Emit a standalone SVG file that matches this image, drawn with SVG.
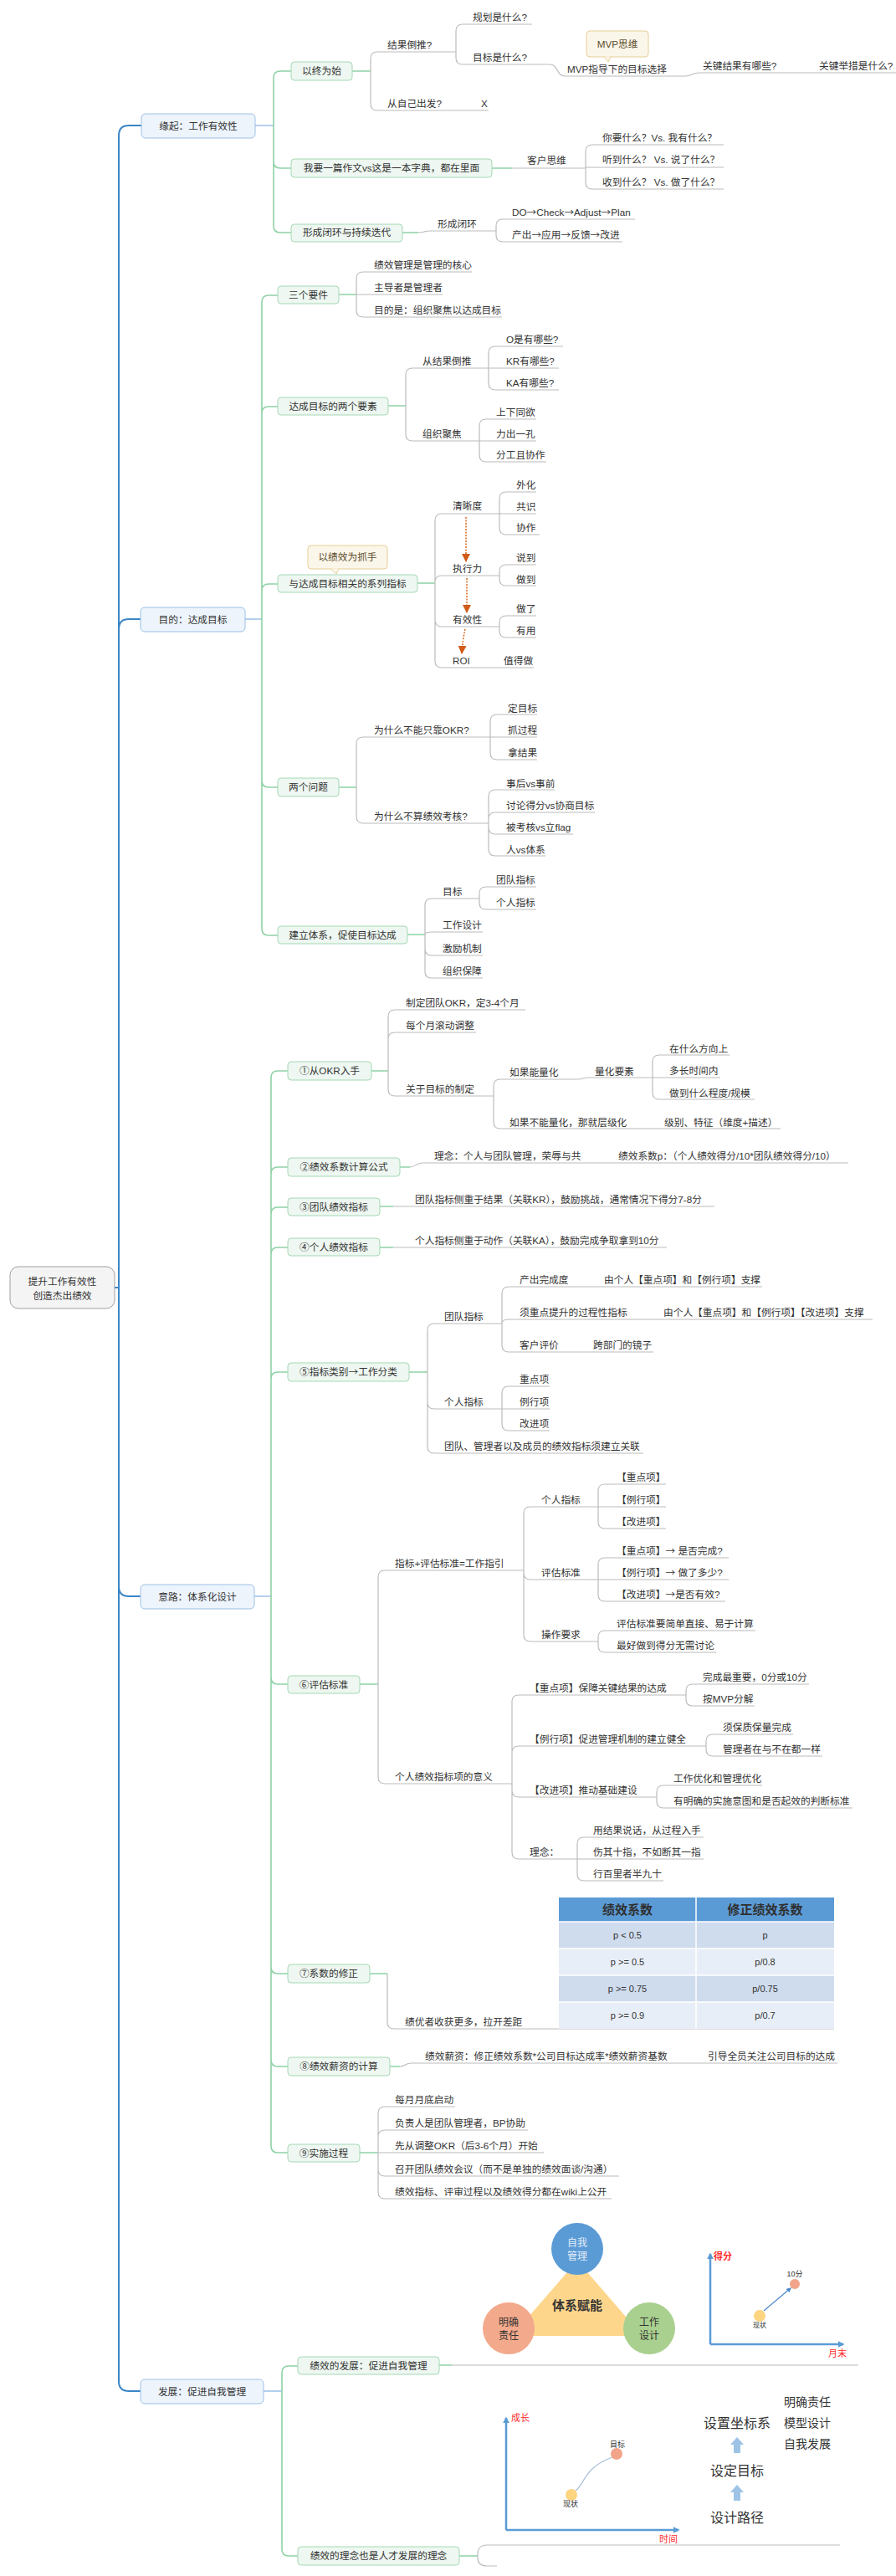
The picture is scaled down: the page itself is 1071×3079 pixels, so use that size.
<svg xmlns="http://www.w3.org/2000/svg" width="1071" height="3079" viewBox="0 0 1071 3079">
<defs>
<style>
text{font-family:'Liberation Sans','Noto Sans CJK SC',sans-serif;font-size:11.7px;fill:#333}
.ar{font-family:'Noto Sans CJK SC',sans-serif}
.c{text-anchor:middle}
.lb{fill:none;stroke:#3b86c6;stroke-width:2}
.lb2{fill:none;stroke:#9cc0e6;stroke-width:1.5}
.gn{fill:none;stroke:#8fd2a6;stroke-width:1.6}
.lg{fill:none;stroke:#bcbcbc;stroke-width:1.2}
.n1 rect{fill:#edf4fc;stroke:#9cc0e6;stroke-width:1}
.n2 rect{fill:#eef7f1;stroke:#a5d9b5;stroke-width:1}
.co{fill:#fbf6ea;stroke:#e6cf96;stroke-width:1}
.cot{fill:#5c4d2b}
.oa{fill:none;stroke:#d9691f;stroke-width:1.5;stroke-dasharray:2 1.5}
.ax{fill:none;stroke:#5b9bd5;stroke-width:2.5}
.red{fill:#ff2b2b;font-size:11px}
.sm{font-size:9px}
.big{font-size:16px}
.mid{font-size:14px}
.th{font-size:15px;font-weight:bold;fill:#2f2f2f}
.td{font-size:11px}
</style>
<marker id="ma" viewBox="0 0 10 10" markerWidth="10" markerHeight="10" refX="9" refY="5" orient="auto" markerUnits="userSpaceOnUse"><path d="M0,0 L10,5 L0,10 z" fill="#d05a16"/></marker>
<marker id="mb" viewBox="0 0 10 10" markerWidth="8" markerHeight="8" refX="8" refY="5" orient="auto" markerUnits="userSpaceOnUse"><path d="M0,0 L10,5 L0,10 z" fill="#5b9bd5"/></marker>
<marker id="mc" viewBox="0 0 10 10" markerWidth="6" markerHeight="6" refX="8" refY="5" orient="auto" markerUnits="userSpaceOnUse"><path d="M0,0 L10,5 L0,10 z" fill="#4a88c8"/></marker>
</defs>
<rect width="1071" height="3079" fill="#ffffff"/>

<g id="connectors">
<path class="lb" d="M137 1539 H142 M142 1539 V162 Q142 150 154 150 H169 M142 1539 V752 Q142 740 154 740 H168 M142 1539 V1896 Q142 1908 154 1908 H168 M142 1539 V2846 Q142 2858 154 2858 H168"/>
<path class="lb2" d="M305 150 H327 M293 740 H313 M304 1908 H324 M315 2858 H337"/>
<path class="gn" d="M327 150 V93 Q327 85 335 85 H348 M327 150 V193 Q327 201 335 201 H348 M327 150 V270 Q327 278 335 278 H348"/>
<path class="gn" d="M313 740 V361 Q313 353 321 353 H332 M313 740 V494 Q313 486 321 486 H332 M313 740 V706 Q313 698 321 698 H332 M313 740 V933 Q313 941 321 941 H332 M313 740 V1110 Q313 1118 321 1118 H332"/>
<path class="gn" d="M324 1908 V1288 Q324 1280 332 1280 H344 M324 1908 V1403 Q324 1395 332 1395 H344 M324 1908 V1451 Q324 1443 332 1443 H344 M324 1908 V1499 Q324 1491 332 1491 H344 M324 1908 V1648 Q324 1640 332 1640 H344 M324 1908 V2005 Q324 2013 332 2013 H344 M324 1908 V2351 Q324 2359 332 2359 H344 M324 1908 V2462 Q324 2470 332 2470 H344 M324 1908 V2565 Q324 2573 332 2573 H344"/>
<path class="gn" d="M337 2858 V2836 Q337 2828 345 2828 H356 M337 2858 V3047 Q337 3055 345 3055 H356"/>
<path class="gn" d="M421 85 H443 M588 201 H612 M481 278 H500 M405 352 H426 M464 485 H485 M499 697 H520 M405 941 H426 M487 1117 H508 M444 1280 H464 M478 1395 H490 M454 1442 H470 M454 1491 H470 M489 1640 H511 M430 2013 H452 M442 2359 H463 M466 2470 H478 M430 2573 H452 M525 2827 H540 M549 3055 H571"/>
<path class="lg" d="M443 85 V70 Q443 62 451 62 H545 M443 85 V124 Q443 132 451 132 H584 M545 62 V37 Q545 29 553 29 H636 M545 62 V69 Q545 77 553 77 H657 M657 77 C668 77 664 91 676 91 H819 M819 91 C828 91 826 87 836 87 H1071"/>
<path class="lg" d="M612 201 H700 M700 201 V181 Q700 173 708 173 H865 M700 200 H865 M700 201 V218 Q700 226 708 226 H865"/>
<path class="lg" d="M500 278 C508 278 506 276 514 276 H593 M593 276 V270 Q593 262 601 262 H759 M593 276 V281 Q593 289 601 289 H744"/>
<path class="lg" d="M426 352 V333 Q426 325 434 325 H564 M426 352 H529 M426 352 V371 Q426 379 434 379 H600"/>
<path class="lg" d="M485 485 V448 Q485 440 493 440 H584 M485 485 V519 Q485 527 493 527 H573 M584 440 V422 Q584 414 592 414 H673 M584 440 H668 M584 440 V458 Q584 466 592 466 H668 M573 527 V509 Q573 501 581 501 H641 M573 527 H641 M573 527 V544 Q573 552 581 552 H653"/>
<path class="lg" d="M520 697 V622 Q520 614 528 614 H597 M520 697 V696 Q520 688 528 688 H597 M520 697 V741 Q520 749 528 749 H597 M520 697 V790 Q520 798 528 798 H638 M597 614 V596 Q597 588 605 588 H641 M597 614 H641 M597 614 V631 Q597 639 605 639 H645 M597 688 V683 Q597 675 605 675 H641 M597 688 V692 Q597 700 605 700 H641 M597 749 V744 Q597 736 605 736 H641 M597 749 V754 Q597 762 605 762 H641"/>
<path class="lg" d="M426 941 V889 Q426 881 434 881 H586 M426 941 V976 Q426 984 434 984 H584 M586 881 V862 Q586 854 594 854 H642 M586 881 H642 M586 881 V900 Q586 908 594 908 H642 M584 984 V952 Q584 944 592 944 H663 M584 984 V979 Q584 971 592 971 H711 M584 984 V989 Q584 997 592 997 H685 M584 984 V1015 Q584 1023 592 1023 H652"/>
<path class="lg" d="M508 1117 V1082 Q508 1074 516 1074 H573 M508 1117 C508 1115 510 1114 516 1114 H577 M508 1117 V1134 Q508 1142 516 1142 H577 M508 1117 V1161 Q508 1169 516 1169 H577 M573 1074 V1068 Q573 1060 581 1060 H641 M573 1074 V1079 Q573 1087 581 1087 H641"/>
<path class="lg" d="M464 1280 V1215 Q464 1207 472 1207 H628 M464 1280 V1242 Q464 1234 472 1234 H569 M464 1280 V1302 Q464 1310 472 1310 H590 M590 1310 V1298 Q590 1290 598 1290 H690 M590 1310 V1341 Q590 1349 598 1349 H933 M690 1290 C698 1290 696 1288 704 1288 H780 M780 1288 V1269 Q780 1261 788 1261 H872 M780 1288 H861 M780 1288 V1306 Q780 1314 788 1314 H902"/>
<path class="lg" d="M490 1395 C497 1395 497 1390 505 1390 H1014 M470 1442 H854 M470 1491 H797"/>
<path class="lg" d="M511 1640 V1590 Q511 1582 519 1582 H600 M511 1640 V1676 Q511 1684 519 1684 H600 M511 1640 V1729 Q511 1737 519 1737 H769 M600 1582 V1546 Q600 1538 608 1538 H911 M600 1582 C600 1579 603 1577 608 1577 H1043 M600 1582 V1608 Q600 1616 608 1616 H781 M600 1684 V1665 Q600 1657 608 1657 H657 M600 1684 H657 M600 1684 V1702 Q600 1710 608 1710 H657"/>
<path class="lg" d="M452 2013 V1885 Q452 1877 460 1877 H626 M452 2013 V2124 Q452 2132 460 2132 H612 M626 1877 V1809 Q626 1801 634 1801 H715 M626 1877 V1880 Q626 1888 634 1888 H715 M626 1877 V1954 Q626 1962 634 1962 H715 M715 1801 V1782 Q715 1774 723 1774 H796 M715 1801 H796 M715 1801 V1819 Q715 1827 723 1827 H796 M715 1888 V1870 Q715 1862 723 1862 H871 M715 1888 H871 M715 1888 V1906 Q715 1914 723 1914 H867 M715 1962 V1957 Q715 1949 723 1949 H903 M715 1962 V1967 Q715 1975 723 1975 H856"/>
<path class="lg" d="M612 2132 V2034 Q612 2026 620 2026 H820 M612 2132 V2095 Q612 2087 620 2087 H844 M612 2132 V2140 Q612 2148 620 2148 H785 M612 2132 V2214 Q612 2222 620 2222 H690 M820 2026 V2021 Q820 2013 828 2013 H967 M820 2026 V2031 Q820 2039 828 2039 H902 M844 2087 V2081 Q844 2073 852 2073 H948 M844 2087 V2091 Q844 2099 852 2099 H983 M785 2148 V2142 Q785 2134 793 2134 H911 M785 2148 V2153 Q785 2161 793 2161 H1019 M690 2222 V2204 Q690 2196 698 2196 H841 M690 2222 H841 M690 2222 V2240 Q690 2248 698 2248 H793"/>
<path class="lg" d="M463 2359 V2417 Q463 2425 471 2425 H997 M478 2470 C484 2470 484 2466 492 2466 H1001"/>
<path class="lg" d="M452 2573 V2526 Q452 2518 460 2518 H544 M452 2573 V2554 Q452 2546 460 2546 H631 M452 2573 H650 M452 2573 V2593 Q452 2601 460 2601 H740 M452 2573 V2620 Q452 2628 460 2628 H731"/>
<path class="lg" d="M540 2827 H1026 M1004 3042 H582 Q571 3042 571 3053 V3057 Q571 3067 582 3067 H594"/>
<path class="oa" d="M557 618 V671" marker-end="url(#ma)"/>
<path class="oa" d="M558 691 V732" marker-end="url(#ma)"/>
<path class="oa" d="M556 752 Q553 765 552 781" marker-end="url(#ma)"/>
</g>

<g id="root"><rect x="12" y="1514" width="125" height="50" rx="10" fill="#f4f4f4" stroke="#a0a0a0"/><text class="c" x="74.5" y="1536">提升工作有效性</text><text class="c" x="74.5" y="1553">创造杰出绩效</text></g>

<g id="n-yuanqi" class="n1"><rect x="169" y="136" width="136" height="29" rx="5"/><text class="c" x="237" y="155">缘起：工作有效性</text></g>
<g id="n-mudi" class="n1"><rect x="168" y="726" width="125" height="29" rx="5"/><text class="c" x="230.5" y="745">目的：达成目标</text></g>
<g id="n-yilu" class="n1"><rect x="168" y="1894" width="136" height="29" rx="5"/><text class="c" x="236" y="1913">意路：体系化设计</text></g>
<g id="n-fazhan" class="n1"><rect x="168" y="2844" width="147" height="29" rx="5"/><text class="c" x="241.5" y="2863">发展：促进自我管理</text></g>

<g id="n-yizhong" class="n2"><rect x="348" y="74" width="73" height="22" rx="4"/><text class="c" x="384.5" y="89">以终为始</text></g>
<g id="n-zuowen" class="n2"><rect x="348" y="190" width="240" height="22" rx="4"/><text class="c" x="468" y="205">我要一篇作文vs这是一本字典，都在里面</text></g>
<g id="n-bihuan" class="n2"><rect x="348" y="268" width="133" height="21" rx="4"/><text class="c" x="414.5" y="282">形成闭环与持续迭代</text></g>

<g id="n-sange" class="n2"><rect x="332" y="342" width="73" height="21" rx="4"/><text class="c" x="368.5" y="357">三个要件</text></g>
<g id="n-liangge" class="n2"><rect x="332" y="475" width="132" height="21" rx="4"/><text class="c" x="398" y="490">达成目标的两个要素</text></g>
<g id="n-xilie" class="n2"><rect x="332" y="687" width="167" height="21" rx="4"/><text class="c" x="415.5" y="702">与达成目标相关的系列指标</text></g>
<g id="n-wenti" class="n2"><rect x="332" y="930" width="73" height="22" rx="4"/><text class="c" x="368.5" y="945">两个问题</text></g>
<g id="n-tixi" class="n2"><rect x="332" y="1107" width="155" height="21" rx="4"/><text class="c" x="409.5" y="1122">建立体系，促使目标达成</text></g>

<g id="n-1" class="n2"><rect x="344" y="1269" width="100" height="22" rx="4"/><text class="c" x="394" y="1284">①从OKR入手</text></g>
<g id="n-2" class="n2"><rect x="344" y="1384" width="134" height="22" rx="4"/><text class="c" x="411" y="1399">②绩效系数计算公式</text></g>
<g id="n-3" class="n2"><rect x="344" y="1432" width="110" height="21" rx="4"/><text class="c" x="399" y="1447">③团队绩效指标</text></g>
<g id="n-4" class="n2"><rect x="344" y="1480" width="110" height="21" rx="4"/><text class="c" x="399" y="1495">④个人绩效指标</text></g>
<g id="n-5" class="n2"><rect x="344" y="1629" width="145" height="22" rx="4"/><text class="c" x="416.5" y="1644">⑤指标类别<tspan class="ar">→</tspan>工作分类</text></g>
<g id="n-6" class="n2"><rect x="344" y="2003" width="86" height="21" rx="4"/><text class="c" x="387" y="2018">⑥评估标准</text></g>
<g id="n-7" class="n2"><rect x="344" y="2348" width="98" height="22" rx="4"/><text class="c" x="393" y="2363">⑦系数的修正</text></g>
<g id="n-8" class="n2"><rect x="344" y="2459" width="122" height="22" rx="4"/><text class="c" x="405" y="2474">⑧绩效薪资的计算</text></g>
<g id="n-9" class="n2"><rect x="344" y="2563" width="86" height="21" rx="4"/><text class="c" x="387" y="2578">⑨实施过程</text></g>

<g id="n-fz1" class="n2"><rect x="356" y="2817" width="169" height="21" rx="4"/><text class="c" x="440.5" y="2832">绩效的发展：促进自我管理</text></g>
<g id="n-fz2" class="n2"><rect x="356" y="3044" width="193" height="22" rx="4"/><text class="c" x="452.5" y="3059">绩效的理念也是人才发展的理念</text></g>

<g id="callouts">
<rect class="co" x="701" y="37" width="74" height="31" rx="4"/><path class="co" d="M722 67.5 L727 74 L730 67.5" /><text class="c cot" x="738" y="57">MVP思维</text>
<rect class="co" x="368" y="652" width="95" height="28" rx="4"/><path class="co" d="M395 679.5 L402 686 L405 679.5"/><text class="c cot" x="415.5" y="670">以绩效为抓手</text>
</g>

<g id="leaves">
<text x="463" y="58">结果倒推?</text>
<text x="463" y="128">从自己出发?</text>
<text x="575" y="128">X</text>
<text x="565" y="25">规划是什么?</text>
<text x="565" y="73">目标是什么?</text>
<text x="678" y="87">MVP指导下的目标选择</text>
<text x="840" y="83">关键结果有哪些?</text>
<text x="979" y="83">关键举措是什么?</text>
<text x="630" y="196">客户思维</text>
<text x="720" y="169">你要什么？Vs. 我有什么？</text>
<text x="720" y="195">听到什么？ Vs. 说了什么？</text>
<text x="720" y="222">收到什么？ Vs. 做了什么？</text>
<text x="523" y="272">形成闭环</text>
<text x="612" y="258">DO<tspan class="ar">→</tspan>Check<tspan class="ar">→</tspan>Adjust<tspan class="ar">→</tspan>Plan</text>
<text x="612" y="285">产出<tspan class="ar">→</tspan>应用<tspan class="ar">→</tspan>反馈<tspan class="ar">→</tspan>改进</text>

<text x="447" y="321">绩效管理是管理的核心</text>
<text x="447" y="348">主导者是管理者</text>
<text x="447" y="375">目的是：组织聚焦以达成目标</text>
<text x="505" y="436">从结果倒推</text>
<text x="605" y="410">O是有哪些?</text>
<text x="605" y="436">KR有哪些?</text>
<text x="605" y="462">KA有哪些?</text>
<text x="505" y="523">组织聚焦</text>
<text x="593" y="497">上下同欲</text>
<text x="593" y="523">力出一孔</text>
<text x="593" y="548">分工且协作</text>
<text x="541" y="609">清晰度</text>
<text x="617" y="584">外化</text>
<text x="617" y="610">共识</text>
<text x="617" y="635">协作</text>
<text x="541" y="684">执行力</text>
<text x="617" y="671">说到</text>
<text x="617" y="697">做到</text>
<text x="541" y="745">有效性</text>
<text x="617" y="732">做了</text>
<text x="617" y="758">有用</text>
<text x="541" y="794">ROI</text>
<text x="602" y="794">值得做</text>

<text x="447" y="877">为什么不能只靠OKR?</text>
<text x="607" y="851">定目标</text>
<text x="607" y="877">抓过程</text>
<text x="607" y="904">拿结果</text>
<text x="447" y="980">为什么不算绩效考核?</text>
<text x="605" y="941">事后vs事前</text>
<text x="605" y="967">讨论得分vs协商目标</text>
<text x="605" y="993">被考核vs立flag</text>
<text x="605" y="1020">人vs体系</text>
<text x="529" y="1070">目标</text>
<text x="593" y="1056">团队指标</text>
<text x="593" y="1083">个人指标</text>
<text x="529" y="1110">工作设计</text>
<text x="529" y="1138">激励机制</text>
<text x="529" y="1165">组织保障</text>

<text x="485" y="1203">制定团队OKR，定3-4个月</text>
<text x="485" y="1230">每个月滚动调整</text>
<text x="485" y="1306">关于目标的制定</text>
<text x="609" y="1286">如果能量化</text>
<text x="711" y="1285">量化要素</text>
<text x="800" y="1258">在什么方向上</text>
<text x="800" y="1284">多长时间内</text>
<text x="800" y="1311">做到什么程度/规模</text>
<text x="609" y="1346">如果不能量化，那就层级化</text>
<text x="794" y="1346">级别、特征（维度+描述）</text>
<text x="519" y="1386">理念：个人与团队管理，荣辱与共</text>
<text x="739" y="1386">绩效系数p：（个人绩效得分/10*团队绩效得分/10）</text>
<text x="496" y="1438">团队指标侧重于结果（关联KR），鼓励挑战，通常情况下得分7-8分</text>
<text x="496" y="1487">个人指标侧重于动作（关联KA），鼓励完成争取拿到10分</text>

<text x="531" y="1578">团队指标</text>
<text x="621" y="1534">产出完成度</text>
<text x="722" y="1534">由个人【重点项】和【例行项】支撑</text>
<text x="621" y="1573">须重点提升的过程性指标</text>
<text x="793" y="1573">由个人【重点项】和【例行项】【改进项】支撑</text>
<text x="621" y="1612">客户评价</text>
<text x="709" y="1612">跨部门的镜子</text>
<text x="531" y="1680">个人指标</text>
<text x="621" y="1653">重点项</text>
<text x="621" y="1680">例行项</text>
<text x="621" y="1706">改进项</text>
<text x="531" y="1733">团队、管理者以及成员的绩效指标须建立关联</text>

<text x="472" y="1873">指标+评估标准=工作指引</text>
<text x="647" y="1797">个人指标</text>
<text x="737" y="1770">【重点项】</text>
<text x="737" y="1797">【例行项】</text>
<text x="737" y="1823">【改进项】</text>
<text x="647" y="1884">评估标准</text>
<text x="737" y="1858">【重点项】<tspan class="ar">→</tspan> 是否完成?</text>
<text x="737" y="1884">【例行项】<tspan class="ar">→</tspan> 做了多少?</text>
<text x="737" y="1910">【改进项】<tspan class="ar">→</tspan>是否有效?</text>
<text x="647" y="1958">操作要求</text>
<text x="737" y="1945">评估标准要简单直接、易于计算</text>
<text x="737" y="1971">最好做到得分无需讨论</text>
<text x="472" y="2128">个人绩效指标项的意义</text>
<text x="633" y="2022">【重点项】保障关键结果的达成</text>
<text x="840" y="2009">完成最重要，0分或10分</text>
<text x="840" y="2035">按MVP分解</text>
<text x="633" y="2083">【例行项】促进管理机制的建立健全</text>
<text x="864" y="2069">须保质保量完成</text>
<text x="864" y="2095">管理者在与不在都一样</text>
<text x="633" y="2144">【改进项】推动基础建设</text>
<text x="805" y="2130">工作优化和管理优化</text>
<text x="805" y="2157">有明确的实施意图和是否起效的判断标准</text>
<text x="633" y="2218">理念：</text>
<text x="709" y="2192">用结果说话，从过程入手</text>
<text x="709" y="2218">伤其十指，不如断其一指</text>
<text x="709" y="2244">行百里者半九十</text>

<text x="484" y="2421">绩优者收获更多，拉开差距</text>
<text x="508" y="2462">绩效薪资：修正绩效系数*公司目标达成率*绩效薪资基数</text>
<text x="846" y="2462">引导全员关注公司目标的达成</text>

<text x="472" y="2514">每月月底启动</text>
<text x="472" y="2542">负责人是团队管理者，BP协助</text>
<text x="472" y="2569">先从调整OKR（后3-6个月）开始</text>
<text x="472" y="2597">召开团队绩效会议（而不是单独的绩效面谈/沟通）</text>
<text x="472" y="2624">绩效指标、评审过程以及绩效得分都在wiki上公开</text>
</g>

<g id="table">
<rect x="668" y="2268" width="329" height="29" fill="#5b9bd5"/>
<rect x="668" y="2297" width="329" height="32" fill="#cfdcee"/>
<rect x="668" y="2329" width="329" height="32" fill="#e8eef7"/>
<rect x="668" y="2361" width="329" height="32" fill="#cfdcee"/>
<rect x="668" y="2393" width="329" height="32" fill="#e8eef7"/>
<path d="M832 2268 V2425 M668 2297 H997 M668 2329 H997 M668 2361 H997 M668 2393 H997" stroke="#ffffff" stroke-width="1.5" fill="none"/>
<text class="c th" x="750" y="2288">绩效系数</text>
<text class="c th" x="914.5" y="2288">修正绩效系数</text>
<text class="c td" x="750" y="2317">p &lt; 0.5</text><text class="c td" x="914.5" y="2317">p</text>
<text class="c td" x="750" y="2349">p &gt;= 0.5</text><text class="c td" x="914.5" y="2349">p/0.8</text>
<text class="c td" x="750" y="2381">p &gt;= 0.75</text><text class="c td" x="914.5" y="2381">p/0.75</text>
<text class="c td" x="750" y="2413">p &gt;= 0.9</text><text class="c td" x="914.5" y="2413">p/0.7</text>
</g>

<g id="triangle">
<polygon points="690,2702 612,2792 768,2792" fill="#fdd68c"/>
<circle cx="690" cy="2688" r="31" fill="#5b9bd5"/>
<circle cx="608" cy="2783" r="31" fill="#f3a98b"/>
<circle cx="776" cy="2783" r="31" fill="#a9d08e"/>
<text class="c" x="690" y="2685" style="font-size:12px;fill:#e3edf8">自我</text>
<text class="c" x="690" y="2701" style="font-size:12px;fill:#e3edf8">管理</text>
<text class="c" x="608" y="2780" style="font-size:12px">明确</text>
<text class="c" x="608" y="2796" style="font-size:12px">责任</text>
<text class="c" x="776" y="2780" style="font-size:12px">工作</text>
<text class="c" x="776" y="2796" style="font-size:12px">设计</text>
<text class="c" x="690" y="2761" style="font-size:15px;font-weight:bold">体系赋能</text>
</g>

<g id="chart-score">
<path class="ax" d="M849 2802 V2694" marker-end="url(#mb)"/>
<path class="ax" d="M849 2802 H1008" marker-end="url(#mb)"/>
<text class="red" x="853" y="2701" style="font-weight:bold">得分</text>
<text class="red" x="990" y="2817">月末</text>
<path d="M913 2762 L945 2735" stroke="#4a88c8" stroke-width="1.2" fill="none" marker-end="url(#mc)"/>
<circle cx="950" cy="2730" r="6" fill="#f2a48a"/>
<circle cx="908" cy="2768" r="7" fill="#fdd47f"/>
<text class="c sm" x="950" y="2721">10分</text>
<text class="c" x="908" y="2782" style="font-size:8px">现状</text>
</g>

<g id="chart-growth">
<path class="ax" d="M605 3024 V2890" marker-end="url(#mb)"/>
<path class="ax" d="M605 3024 H811" marker-end="url(#mb)"/>
<text class="red" x="611" y="2894">成长</text>
<text class="red" x="788" y="3039">时间</text>
<path d="M688 2977 C700 2968 697 2950 732 2937" stroke="#a9bfd8" stroke-width="1.2" fill="none"/>
<circle cx="737" cy="2933" r="7" fill="#f2a48a"/>
<circle cx="683" cy="2982" r="7" fill="#fdd47f"/>
<text class="c sm" x="738" y="2925">目标</text>
<text class="c sm" x="682" y="2996">现状</text>
<text class="c big" x="881" y="2902">设置坐标系</text>
<polygon points="881,2913 889,2922 885,2922 885,2932 877,2932 877,2922 873,2922" fill="#9dc3e6"/>
<text class="c big" x="881" y="2959">设定目标</text>
<polygon points="881,2970 889,2979 885,2979 885,2989 877,2989 877,2979 873,2979" fill="#9dc3e6"/>
<text class="c big" x="881" y="3015">设计路径</text>
<text class="mid" x="937" y="2876">明确责任</text>
<text class="mid" x="937" y="2901">模型设计</text>
<text class="mid" x="937" y="2926">自我发展</text>
</g>
</svg>
